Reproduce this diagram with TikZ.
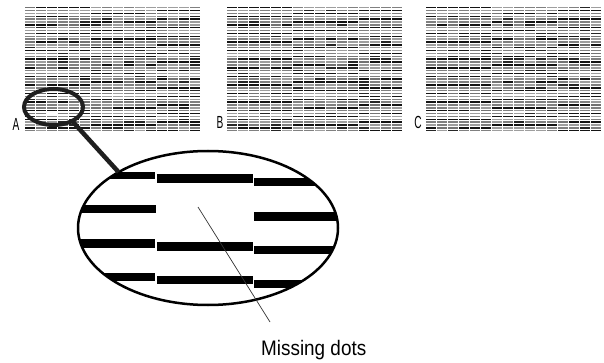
\documentclass[tikz,border=0pt]{standalone}
\usepackage{fontspec}
\setmainfont{Liberation Sans}
\usetikzlibrary{shapes.geometric}
\begin{document}
\begin{tikzpicture}[x=1pt,y=-1pt]
\tikzset{
  lensring/.style={draw=black!88, ellipse, line width=4pt, inner sep=0pt, outer sep=0pt},
  magring/.style={draw=black, ellipse, line width=2.5pt, inner sep=0pt, outer sep=0pt},
  letterlab/.style={anchor=base, inner sep=0pt, font=\fontsize{17.5}{17.5}\selectfont},
  biglab/.style={anchor=base west, inner sep=0pt, font=\fontsize{21}{21}\selectfont},
  pointer/.style={draw=black!80, line width=0.7pt},
  handle/.style={draw=black!88, line width=4.5pt}
}
\useasboundingbox (0,0) rectangle (604,363);
% dot-check patterns
\pgfmathsetseed{11}
\foreach \bx in {25,227,426} {
  \foreach \c in {0,...,15} {
    \foreach \r in {0,...,43} {
      \pgfmathrandominteger{\k}{0}{9}
      \pgfmathtruncatemacro\rt{mod(\r+\c/6,3)}
      \ifnum\rt=0
        \ifnum\k<2 \def\col{black!55}\else\def\col{black!92}\fi
      \else
        \ifnum\k<1 \def\col{black!85}\else\ifnum\k<6 \def\col{black!50}\else\def\col{black!38}\fi\fi
      \fi
      \ifnum\numexpr\bx*10000+\c*100+\r\relax=250237 \else
        \pgfmathsetmacro\xx{\bx+\c*11}
        \pgfmathsetmacro\yy{7+\r*2.86}
        \fill[\col] (\xx,\yy) rectangle ++(9.8,1.45);
      \fi
    }
  }
}
% labels
\node[letterlab] (la) at (16,131) {\scalebox{0.58}[1]{A}};
\node[letterlab] (lb) at (220,128.5) {\scalebox{0.58}[1]{B}};
\node[letterlab] (lc) at (418,129) {\scalebox{0.58}[1]{C}};
% magnified bars
\begin{scope}
  \clip (208,228) ellipse [x radius=130, y radius=77];
  \fill[black] (60,172) rectangle (155,179);
  \fill[black] (157,174.5) rectangle (253,183);
  \fill[black] (254,178.5) rectangle (360,186.5);
  \fill[black] (60,205) rectangle (156,213.3);
  \fill[black] (254,212.5) rectangle (360,221);
  \fill[black] (60,239.3) rectangle (155,247.7);
  \fill[black] (157,242) rectangle (253,250.7);
  \fill[black] (254,246) rectangle (360,254.3);
  \fill[black] (60,273.3) rectangle (155,281.3);
  \fill[black] (157,276) rectangle (253,284.3);
  \fill[black] (254,280) rectangle (360,288.3);
\end{scope}
\node[magring, minimum width=260pt, minimum height=154pt] (mag) at (208,228) {};
\node[lensring, minimum width=59pt, minimum height=36pt] (lens) at (53.5,107) {};
\draw[handle] (lens.-37) -- (mag.148);
% pointer and label
\coordinate (ptA) at (198,207);
\coordinate (ptB) at (270,322);
\draw[pointer] (ptA) -- (ptB);
\node[biglab] (miss) at (261,355) {\scalebox{0.9}[1]{Missing dots}};
\end{tikzpicture}
\end{document}
